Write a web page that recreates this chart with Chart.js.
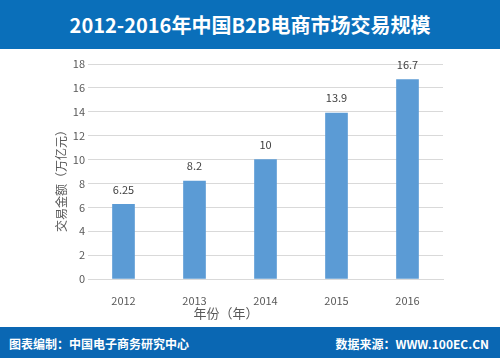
<!DOCTYPE html>
<html lang="zh">
<head>
    <meta charset="UTF-8">
    <title>2012-2016年中国B2B电商市场交易规模</title>
    <script src="https://cdn.jsdelivr.net/npm/chart.js"></script>
    <style>
        body {
            margin: 0;
            width: 500px;
            height: 358px;
            overflow: hidden;
            background: #fff;
            font-family: "Noto Sans CJK SC", sans-serif;
        }
        .header {
            position: absolute;
            left: 0; top: 0;
            width: 500px; height: 49px;
            background: #0a6fba;
            color: #fff;
            font-weight: bold;
            font-size: 20px;
            line-height: 49px;
            text-align: center;
        }
        .footer {
            position: absolute;
            left: 0; top: 327px;
            width: 500px; height: 31px;
            background: #0a67b3;
            color: #fff;
            font-weight: bold;
            font-size: 12px;
            line-height: 33px;
        }
        .footer .left { position: absolute; left: 9px; }
        .footer .right { position: absolute; right: 11px; }
        .wrap {
            position: absolute;
            left: 0; top: 49px;
            width: 500px; height: 278px;
        }
    </style>
</head>
<body>
    <div class="header">2012-2016年中国B2B电商市场交易规模</div>
    <div class="wrap"><canvas id="chart" width="500" height="278"></canvas></div>
    <div class="footer">
        <span class="left">图表编制：中国电子商务研究中心</span>
        <span class="right">数据来源：WWW.100EC.CN</span>
    </div>

    <script>
        const years = ['2012', '2013', '2014', '2015', '2016'];
        const volume = [6.25, 8.2, 10, 13.9, 16.7];
        const volumeLabels = ['6.25', '8.2', '10', '13.9', '16.7'];
        const yTitle = '交易金额（万亿元）';
        const xTitle = '年份（年）';

        const font = '"Noto Sans CJK SC", "Open Sans", sans-serif';

        // value labels above the bars + axis titles
        const extras = {
            id: 'extras',
            afterDatasetsDraw(chart) {
                const ctx = chart.ctx;
                const meta = chart.getDatasetMeta(0);
                ctx.save();
                ctx.fillStyle = '#404040';
                ctx.font = '11px ' + font;
                ctx.textAlign = 'center';
                ctx.textBaseline = 'middle';
                meta.data.forEach((bar, i) => {
                    ctx.fillText(volumeLabels[i], bar.x, bar.y - 15);
                });

                ctx.fillStyle = '#595959';
                ctx.font = '13px ' + font;
                ctx.fillText(xTitle, 226, 264);

                ctx.font = '12px ' + font;
                ctx.translate(61, 129);
                ctx.rotate(-Math.PI / 2);
                ctx.fillText(yTitle, 0, 0);
                ctx.restore();
            }
        };

        new Chart(document.getElementById('chart'), {
            type: 'bar',
            data: {
                labels: years,
                datasets: [{
                    data: volume,
                    backgroundColor: '#5b9bd5',
                    barThickness: 22
                }]
            },
            options: {
                responsive: false,
                animation: false,
                layout: { padding: { left: 0, right: 57, top: 15, bottom: 0 } },
                plugins: {
                    legend: { display: false },
                    tooltip: { enabled: false }
                },
                scales: {
                    x: {
                        grid: { display: false },
                        border: { color: '#d9d9d9' },
                        ticks: { color: '#595959', font: { size: 11, family: font }, padding: 7 },
                        afterFit: s => { s.height = 48; }
                    },
                    y: {
                        min: 0,
                        max: 18,
                        ticks: { stepSize: 2, color: '#595959', font: { size: 11, family: font }, padding: 3 },
                        grid: { color: '#d9d9d9', drawTicks: false },
                        border: { display: false },
                        afterFit: s => { s.width = 88; }
                    }
                }
            },
            plugins: [extras]
        });
    </script>
</body>
</html>
